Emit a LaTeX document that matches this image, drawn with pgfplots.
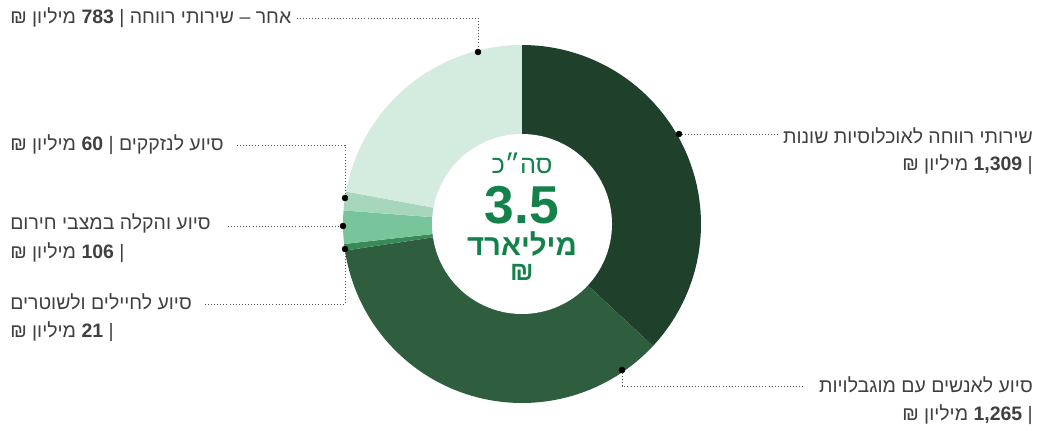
\documentclass[border=0pt]{standalone}
\usepackage{pgfplots}
\pgfplotsset{compat=1.18}
\usepackage{fontspec}
\setmainfont{Liberation Sans}
\newfontfamily\heb[Script=Hebrew]{Liberation Sans}
\TeXXeTstate=1
\definecolor{cA}{HTML}{1F402B}
\definecolor{cB}{HTML}{2E5E3E}
\definecolor{cC}{HTML}{3A8A58}
\definecolor{cD}{HTML}{78C49B}
\definecolor{cE}{HTML}{A6D7BC}
\definecolor{cF}{HTML}{D4EBDF}
\definecolor{txt}{HTML}{404040}
\definecolor{grn}{HTML}{138149}
\definecolor{lead}{HTML}{555555}
% values (million NIS)
\def\vA{1309}\def\vB{1265}\def\vC{21}\def\vD{106}\def\vE{60}\def\vF{783}
\begin{document}
\begin{tikzpicture}
\pgfmathsetmacro{\tot}{\vA+\vB+\vC+\vD+\vE+\vF}
\pgfmathsetmacro{\aA}{90}
\pgfmathsetmacro{\aB}{\aA-360*(\vA/\tot)}
\pgfmathsetmacro{\aC}{\aB-360*(\vB/\tot)}
\pgfmathsetmacro{\aD}{\aC-360*(\vC/\tot)}
\pgfmathsetmacro{\aE}{\aD-360*(\vD/\tot)}
\pgfmathsetmacro{\aF}{\aE-360*(\vE/\tot)}
\pgfmathsetmacro{\aG}{\aF-360*(\vF/\tot)}
\begin{axis}[x=0.75pt, y=0.75pt, xmin=0, xmax=1037, ymin=0, ymax=430,
  hide axis, clip=false, scale only axis]
\path (axis cs:0,0) rectangle (axis cs:1037,430);
\addplot[fill=cA, draw=none, domain=\aB:\aA, samples=80] ({522+179*cos(x)},{206+179*sin(x)}) -- (axis cs:522,206) -- cycle;
\addplot[fill=cB, draw=none, domain=\aC:\aB, samples=80] ({522+179*cos(x)},{206+179*sin(x)}) -- (axis cs:522,206) -- cycle;
\addplot[fill=cC, draw=none, domain=\aD:\aC, samples=10] ({522+179*cos(x)},{206+179*sin(x)}) -- (axis cs:522,206) -- cycle;
\addplot[fill=cD, draw=none, domain=\aE:\aD, samples=20] ({522+179*cos(x)},{206+179*sin(x)}) -- (axis cs:522,206) -- cycle;
\addplot[fill=cE, draw=none, domain=\aF:\aE, samples=15] ({522+179*cos(x)},{206+179*sin(x)}) -- (axis cs:522,206) -- cycle;
\addplot[fill=cF, draw=none, domain=\aG:\aF, samples=60] ({522+179*cos(x)},{206+179*sin(x)}) -- (axis cs:522,206) -- cycle;
\addplot[fill=white, draw=none, domain=0:360, samples=120] ({522+90*cos(x)},{206+90*sin(x)}) -- cycle;
% leader lines
\pgfplotsset{ldr/.style={lead, line width=0.7pt, dash pattern=on 0.7pt off 1.6pt}}
\addplot[ldr] coordinates {(297,412) (478,412) (478,378)};
\addplot[ldr] coordinates {(237,285) (345,285) (345,232)};
\addplot[ldr] coordinates {(228,204) (343,204)};
\addplot[ldr] coordinates {(205,126) (345,126) (345,181)};
\addplot[ldr] coordinates {(679,296) (780,296)};
\addplot[ldr] coordinates {(622,60) (622,44) (803,44)};
\addplot[only marks, mark=*, mark size=2.2pt, black] coordinates {(478,378) (345,232) (343,204) (345,181) (679,296) (622,60)};
% labels
\tikzset{lb/.style={text=txt, inner sep=0pt, font=\heb\fontsize{14.6}{16}\selectfont}}
\node[lb, anchor=west] at (axis cs:10,412) {\beginR אחר – שירותי רווחה | \textbf{783} מיליון ₪\endR};
\node[lb, anchor=west] at (axis cs:10,285) {\beginR סיוע לנזקקים | \textbf{60} מיליון ₪\endR};
\node[lb, anchor=west] at (axis cs:10,207) {\beginR סיוע והקלה במצבי חירום\endR};
\node[lb, anchor=west] at (axis cs:10,177) {\beginR | \textbf{106} מיליון ₪\endR};
\node[lb, anchor=west] at (axis cs:10,128) {\beginR סיוע לחיילים ולשוטרים\endR};
\node[lb, anchor=west] at (axis cs:10,98) {\beginR | \textbf{21} מיליון ₪\endR};
\node[lb, anchor=east] at (axis cs:1033,294) {\beginR שירותי רווחה לאוכלוסיות שונות\endR};
\node[lb, anchor=east] at (axis cs:1033,265) {\beginR | \textbf{1,309} מיליון ₪\endR};
\node[lb, anchor=east] at (axis cs:1033,45) {\beginR סיוע לאנשים עם מוגבלויות\endR};
\node[lb, anchor=east] at (axis cs:1033,15) {\beginR | \textbf{1,265} מיליון ₪\endR};
% centre
\node[anchor=base, text=grn, inner sep=0pt, text height=0.72em, text depth=0pt, font=\heb\fontsize{19}{21}\selectfont] at (axis cs:522,257) {\beginR סה״כ\endR};
\node[anchor=base, text=grn, inner sep=0pt, text height=0.72em, text depth=0pt, font=\heb\bfseries\fontsize{40}{42}\selectfont] at (axis cs:522,207) {3.5};
\node[anchor=base, text=grn, inner sep=0pt, text height=0.72em, text depth=0pt, font=\heb\bfseries\fontsize{22}{24}\selectfont] at (axis cs:522,175) {\beginR מיליארד\endR};
\node[anchor=base, text=grn, inner sep=0pt, text height=0.6em, text depth=0pt, font=\heb\bfseries\fontsize{20}{22}\selectfont] at (axis cs:522,150) {₪};
\end{axis}
\end{tikzpicture}
\end{document}
